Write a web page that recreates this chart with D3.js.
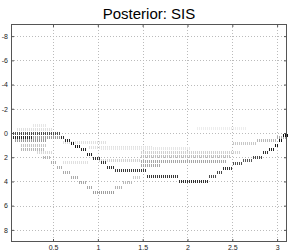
<!DOCTYPE html>
<html>
<head>
<meta charset="utf-8">
<script src="https://cdn.jsdelivr.net/npm/d3@7"></script>
<style>
  body { margin: 0; background: #fff; }
  svg { font-family: "Liberation Sans", Arial, sans-serif; }
</style>
</head>
<body>
<svg id="canvas"></svg>
<script>
// posterior particle density, SIS filter (imagesc style)

// x axis: time, y axis: state (reversed, like matlab's axis ij)
let xTicks = [0.5, 1, 1.5, 2, 2.5, 3]
let yTicks = [-8, -6, -4, -2, 0, 2, 4, 6, 8]
let timeStep = 0.0223
let binSize = 0.25

// segments: [t start, t end, state, weight 0..1]
let faintBands = [
    [0.26, 0.42, -0.6, 0.10],
    [0.09, 0.48, -0.3, 0.12],
    [2.10, 2.65, -0.4, 0.07],
    [0.14, 0.42, 1.0, 0.22],
    [0.14, 0.39, 1.35, 0.28],
    [0.31, 0.48, 1.65, 0.15],
    [0.60, 1.10, 0.8, 0.12],
    [0.90, 1.60, 1.2, 0.12],
    [1.03, 2.03, 1.25, 0.10],
    [0.60, 0.90, 2.4, 0.12],
    [1.00, 1.48, 2.3, 0.18],
    [1.48, 2.59, 1.6, 0.18],
    [1.48, 2.48, 1.9, 0.25],
    [1.48, 2.42, 2.35, 0.35],
    [1.48, 1.70, 2.7, 0.35],
    [2.49, 2.77, 0.85, 0.22],
    [2.77, 2.99, 0.6, 0.28],
    [2.99, 3.10, 0.35, 0.32]
]

let sidePaths = [
    [0.06, 0.42, 0.6, 0.40],
    [0.26, 0.57, 0.35, 0.40],
    [0.37, 0.46, 2.0, 0.30],
    [0.46, 0.53, 2.4, 0.32],
    [0.53, 0.61, 2.85, 0.32],
    [0.61, 0.70, 3.25, 0.33],
    [0.70, 0.78, 3.65, 0.33],
    [0.78, 0.87, 4.1, 0.35],
    [0.87, 0.94, 4.5, 0.35],
    [0.94, 1.18, 4.9, 0.38],
    [1.18, 1.26, 4.5, 0.30],
    [1.26, 1.37, 4.1, 0.28],
    [1.37, 1.48, 3.65, 0.20]
]

let mainPath = [
    [0.04, 0.57, 0.0, 0.70],
    [0.04, 0.26, 0.35, 0.85],
    [0.57, 0.62, 0.35, 0.80],
    [0.62, 0.68, 0.6, 0.85],
    [0.68, 0.73, 0.85, 0.90],
    [0.73, 0.79, 1.1, 0.90],
    [0.79, 0.87, 1.4, 0.85],
    [0.87, 0.94, 1.75, 0.85],
    [0.94, 1.03, 2.1, 0.80],
    [1.03, 1.09, 2.4, 0.80],
    [1.09, 1.17, 2.85, 0.80],
    [1.17, 1.53, 3.1, 0.78],
    [1.53, 1.90, 3.6, 0.78],
    [1.90, 2.22, 4.0, 0.82],
    [2.22, 2.31, 3.6, 0.70],
    [2.31, 2.39, 3.25, 0.72],
    [2.39, 2.50, 2.9, 0.80],
    [2.50, 2.61, 2.5, 0.70],
    [2.61, 2.72, 2.25, 0.65],
    [2.72, 2.83, 2.0, 0.72],
    [2.83, 2.90, 1.65, 0.80],
    [2.90, 2.96, 1.35, 0.85],
    [2.96, 3.01, 1.0, 0.90],
    [3.01, 3.06, 0.6, 0.92],
    [3.06, 3.11, 0.2, 0.95]
]

let width = 291
let height = 251
let margin = {top: 24, right: 4, bottom: 9, left: 11}

let svg = d3.select('#canvas')
            .attr('width', width)
            .attr('height', height)

let x = d3.scaleLinear()
            .domain([0.0314, 3.1102])
            .range([margin.left, width - margin.right])

let y = d3.scaleLinear()
            .domain([-9, 9])
            .range([margin.top, height - margin.bottom])

let plotW = width - margin.right - margin.left
let plotH = height - margin.bottom - margin.top

// title
svg.append('text')
    .attr('x', (margin.left + width - margin.right) / 2)
    .attr('y', 19)
    .attr('text-anchor', 'middle')
    .style('font-size', '15px')
    .text('Posterior: SIS')

// grid
let grid = svg.append('g')
grid.selectAll('.gx')
    .data(xTicks)
    .enter()
    .append('line')
    .attr('x1', (d) => Math.round(x(d)) + 0.5).attr('x2', (d) => Math.round(x(d)) + 0.5)
    .attr('y1', margin.top).attr('y2', height - margin.bottom)
    .attr('stroke', '#bbb')
    .attr('stroke-dasharray', '1,2')
grid.selectAll('.gy')
    .data(yTicks)
    .enter()
    .append('line')
    .attr('y1', (d) => Math.round(y(d)) + 0.5).attr('y2', (d) => Math.round(y(d)) + 0.5)
    .attr('x1', margin.left).attr('x2', width - margin.right)
    .attr('stroke', '#bbb')
    .attr('stroke-dasharray', '1,2')

// particle cells
let cells = []
let allSegs = faintBands.concat(sidePaths, mainPath)
allSegs.forEach((seg) => {
    let k0 = Math.ceil((seg[0] - x.domain()[0]) / timeStep)
    let k1 = Math.floor((seg[1] - x.domain()[0]) / timeStep)
    for (let k = k0; k <= k1; k++) {
        cells.push({t: x.domain()[0] + k * timeStep, s: seg[2], w: seg[3]})
    }
})

let cellH = Math.round(y(binSize) - y(0))

svg.append('g')
    .attr('shape-rendering', 'crispEdges')
    .selectAll('rect')
    .data(cells)
    .enter()
    .append('rect')
    .attr('x', (d) => Math.round(x(d.t)))
    .attr('y', (d) => Math.round(y(d.s) - cellH / 2))
    .attr('width', 1)
    .attr('height', cellH)
    .attr('fill', (d) => {
        let g = Math.round(255 * (1 - d.w))
        return 'rgb(' + g + ',' + g + ',' + g + ')'
    })

// box + ticks
svg.append('rect')
    .attr('x', margin.left + 0.5)
    .attr('y', margin.top + 0.5)
    .attr('width', plotW - 1)
    .attr('height', plotH - 1)
    .attr('fill', 'none')
    .attr('stroke', '#555')
    .attr('stroke-width', 1)

let xAxis = d3.axisBottom(x).tickValues(xTicks).tickSizeInner(-3).tickSizeOuter(0)
            .tickFormat((d) => String(d))
let yAxis = d3.axisLeft(y).tickValues(yTicks).tickSizeInner(-3).tickSizeOuter(0)
            .tickFormat((d) => String(d))

let gx = svg.append('g')
    .attr('transform', 'translate(0,' + (height - margin.bottom) + ')')
    .call(xAxis)
let gy = svg.append('g')
    .attr('transform', 'translate(' + margin.left + ',0)')
    .call(yAxis)

svg.append('g')
    .attr('transform', 'translate(0,' + margin.top + ')')
    .call(d3.axisTop(x).tickValues(xTicks).tickSizeInner(-3).tickSizeOuter(0).tickFormat(''))
svg.append('g')
    .attr('transform', 'translate(' + (width - margin.right) + ',0)')
    .call(d3.axisRight(y).tickValues(yTicks).tickSizeInner(-3).tickSizeOuter(0).tickFormat(''))

svg.selectAll('.domain').remove()
svg.selectAll('.tick line').attr('stroke', '#555')
svg.selectAll('.tick text')
    .style('font-size', '7px')
    .style('font-family', '"Liberation Sans", Arial, sans-serif')
    .attr('fill', '#222')
gx.selectAll('.tick text').attr('y', 3)
gy.selectAll('.tick text').attr('x', -3)
</script>
</body>
</html>
